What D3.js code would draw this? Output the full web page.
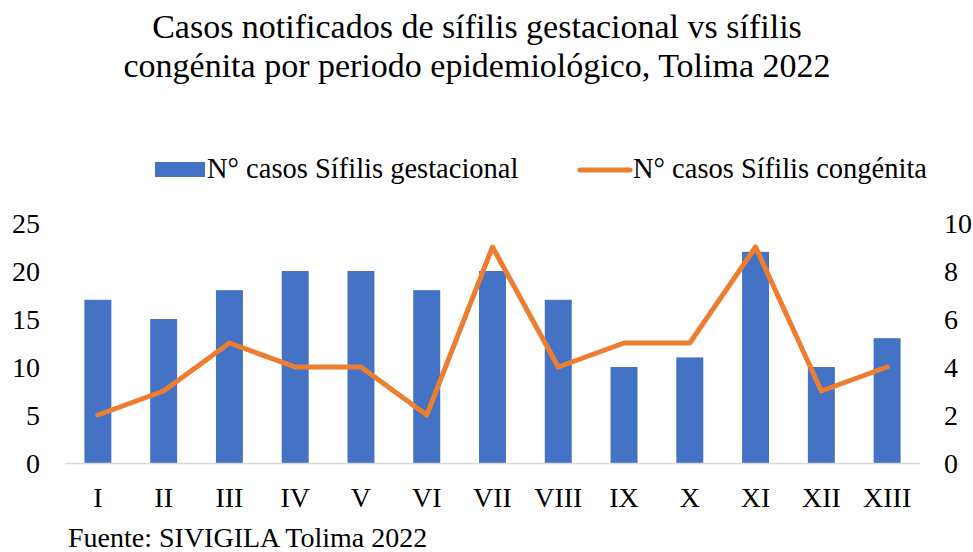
<!DOCTYPE html>
<html><head><meta charset="utf-8">
<script src="https://cdn.jsdelivr.net/npm/d3@7"></script>
<style>body{margin:0;background:#fff}svg{display:block}</style>
</head><body><svg id="c" width="973" height="552"></svg>
<script>
const categories = ["I","II","III","IV","V","VI","VII","VIII","IX","X","XI","XII","XIII"];
const gestacional = [17,15,18,20,20,18,20,17,10,11,22,10,13];
const congenita = [2,3,5,4,4,2,9,4,5,5,9,3,4];
const leftTicks = [0,5,10,15,20,25];
const rightTicks = [0,2,4,6,8,10];
const titleLines = ["Casos notificados de sífilis gestacional vs sífilis","congénita por periodo epidemiológico, Tolima 2022"];
const legendLabels = ["N° casos Sífilis gestacional","N° casos Sífilis congénita"];
const footer = "Fuente: SIVIGILA Tolima 2022";

const svg = d3.select("#c");
const font = "'Liberation Serif','Times New Roman',serif";
const L = 65, R = 920, T = 223, B = 463;
const x = d3.scaleBand().domain(categories).range([L,R]).paddingInner(0.59).paddingOuter(0.295);
const yL = d3.scaleLinear().domain([0,25]).range([B,T]);
const yR = d3.scaleLinear().domain([0,10]).range([B,T]);

svg.append("g").selectAll("text").data(titleLines).join("text")
  .attr("x",477).attr("y",(d,i)=>38+i*39).attr("text-anchor","middle")
  .attr("font-family",font).attr("font-size",34).attr("fill","#000").text(d=>d);

// bars
svg.append("g").selectAll("rect").data(categories).join("rect")
  .attr("x",d=>x(d)).attr("width",x.bandwidth())
  .attr("y",(d,i)=>yL(gestacional[i])).attr("height",(d,i)=>B-yL(gestacional[i]))
  .attr("fill","#4472C4");

// baseline
svg.append("line").attr("x1",L).attr("x2",R).attr("y1",B+0.5).attr("y2",B+0.5)
  .attr("stroke","#D9D9D9").attr("stroke-width",1.5);

// line
const line = d3.line().x((d,i)=>x(categories[i])+x.bandwidth()/2).y(d=>yR(d));
svg.append("path").datum(congenita).attr("d",line).attr("fill","none")
  .attr("stroke","#ED7D31").attr("stroke-width",5).attr("stroke-linejoin","round").attr("stroke-linecap","round");

// left axis
const axL = svg.append("g").attr("transform",`translate(40,0)`)
  .call(d3.axisLeft(yL).tickValues(leftTicks).tickSize(0).tickPadding(0));
axL.select(".domain").remove();
axL.selectAll("text").attr("font-family",font).attr("font-size",28).attr("fill","#000").attr("dy","0.33em");

const axR = svg.append("g").attr("transform",`translate(944,0)`)
  .call(d3.axisRight(yR).tickValues(rightTicks).tickSize(0).tickPadding(0));
axR.select(".domain").remove();
axR.selectAll("text").attr("font-family",font).attr("font-size",28).attr("fill","#000").attr("dy","0.33em");

const axB = svg.append("g").attr("transform",`translate(0,${B})`)
  .call(d3.axisBottom(x).tickSize(0).tickPadding(0));
axB.select(".domain").remove();
axB.selectAll("text").attr("font-family",font).attr("font-size",28).attr("fill","#000").attr("dy",null).attr("y",44);

// legend
const lg = svg.append("g");
lg.append("rect").attr("x",155).attr("y",162).attr("width",50).attr("height",15).attr("fill","#4472C4");
lg.append("text").attr("x",207).attr("y",178).attr("font-family",font).attr("font-size",28.5).text(legendLabels[0]);
lg.append("line").attr("x1",580).attr("x2",630).attr("y1",170).attr("y2",170)
  .attr("stroke","#ED7D31").attr("stroke-width",5).attr("stroke-linecap","round");
lg.append("text").attr("x",633).attr("y",178).attr("font-family",font).attr("font-size",28.5).text(legendLabels[1]);

svg.append("text").attr("x",68).attr("y",547).attr("font-family",font).attr("font-size",28).text(footer);
</script></body></html>
